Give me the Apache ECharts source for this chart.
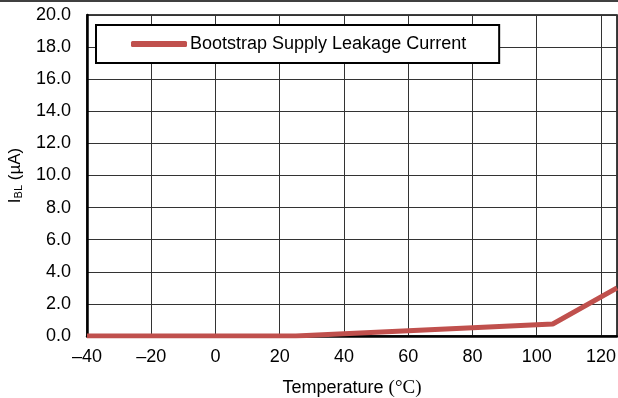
<!DOCTYPE html>
<html><head><meta charset="utf-8">
<script src="https://cdn.jsdelivr.net/npm/echarts@6/dist/echarts.min.js"></script>
<style>html,body{margin:0;padding:0;background:#fff}#c{width:618px;height:398px}</style>
</head><body><div id="c"></div>
<script>
const temperatures = [-40, 25, 105, 125];
const leakage = [0.0, 0.0, 0.75, 3.0];
const seriesName = 'Bootstrap Supply Leakage Current';

const chart = echarts.init(document.getElementById('c'), null, {renderer: 'canvas'});
const font = 'Arial, "Liberation Sans", sans-serif';
const serif = '"Liberation Serif", "Times New Roman", serif';
chart.setOption({
  animation: false,
  backgroundColor: '#fff',
  graphic: [{type: 'line', shape: {x1: 0, y1: 1, x2: 618, y2: 1}, style: {stroke: '#000', lineWidth: 1.5}}],
  grid: {left: 87, top: 15, right: 1, bottom: 62, show: true, borderColor: '#000', borderWidth: 1.5,
    backgroundColor: 'transparent', containLabel: false, outerBoundsMode: 'none'},
  legend: {
    left: 96, top: 25, orient: 'horizontal',
    padding: [10, 33, 10, 35],
    borderColor: '#000', borderWidth: 2, backgroundColor: '#fff',
    icon: 'roundRect', itemWidth: 56, itemHeight: 6,
    textStyle: {fontFamily: font, fontSize: 18, color: '#000', padding: [0, 0, 0, -2]},
    data: [seriesName]
  },
  xAxis: {
    type: 'value', min: -40, max: 125, interval: 20,
    name: 'Temperature {s|(°C)}', nameLocation: 'middle', nameGap: 43,
    nameTextStyle: {fontFamily: font, fontSize: 18, color: '#000',
      rich: {s: {fontFamily: serif, fontSize: 19, color: '#000'}}},
    axisLine: {show: true, onZero: false, lineStyle: {color: '#000', width: 2.5}},
    axisTick: {show: false},
    axisLabel: {margin: 12, fontFamily: font, fontSize: 18, color: '#000', showMaxLabel: false,
      formatter: v => (v % 20 === 0 ? String(v).replace('-', '–') : '')},
    splitLine: {show: true, lineStyle: {color: '#333', width: 1}}
  },
  yAxis: {
    type: 'value', min: 0, max: 20, interval: 2,
    name: 'I{sub|BL} {s|(µA)}', nameLocation: 'middle', nameGap: 63, nameRotate: 90,
    nameTextStyle: {fontFamily: font, fontSize: 17, color: '#000',
      rich: {
        sub: {fontFamily: font, fontSize: 11, color: '#000', verticalAlign: 'bottom', padding: [7, 0, 0, 0]},
        s: {fontFamily: font, fontSize: 17, color: '#000'}
      }},
    axisLine: {show: true, onZero: false, lineStyle: {color: '#000', width: 2.5}},
    axisTick: {show: false},
    axisLabel: {margin: 16, fontFamily: font, fontSize: 18, color: '#000', formatter: v => v.toFixed(1)},
    splitLine: {show: true, lineStyle: {color: '#333', width: 1}}
  },
  series: [{
    name: seriesName, type: 'line', showSymbol: false, symbol: 'none',
    data: temperatures.map((t, i) => [t, leakage[i]]),
    lineStyle: {color: '#C0504D', width: 5},
    itemStyle: {color: '#C0504D'},
    clip: true
  }]
});
</script></body></html>
